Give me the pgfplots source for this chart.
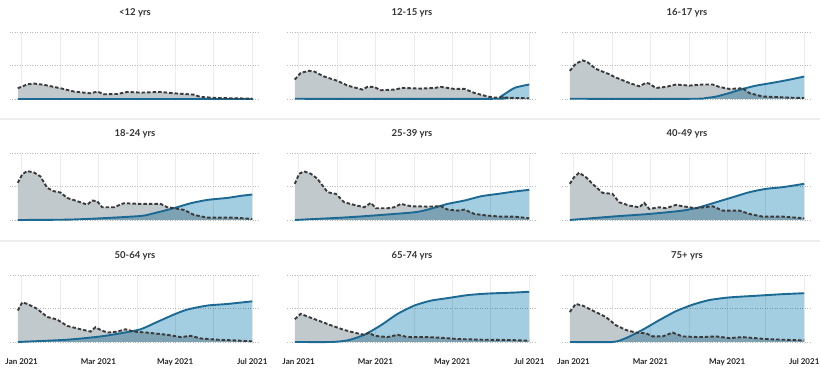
\documentclass[border=0pt]{standalone}
\usepackage{fontspec}
\setmainfont{Lato}
\usepackage{pgfplots}
\usepackage{pgfplotstable}
\pgfplotsset{compat=1.18}
\definecolor{greyfill}{HTML}{C2C9CD}
\definecolor{bluefillc}{HTML}{A3CEE1}
\definecolor{blueline}{HTML}{1C6A94}
\definecolor{dashc}{HTML}{3A3A3A}
\definecolor{gridv}{HTML}{ECECEC}
\definecolor{gridh}{HTML}{BBBBBB}
\definecolor{sepc}{HTML}{EEEEEE}

% <12
\pgfplotstableread{
x y
0 16
7.7 22
12.8 23
20.5 21
33 16
43.6 11
56 8.5
61.5 11
66.7 7
77 7.5
84.6 10.5
95 9.5
110 10.5
120.5 8.5
136 6.5
141 3
154 1.5
181 0.5
}\gA
\pgfplotstableread{
x y
0 0.3
181 0.3
}\bA
% 12-15
\pgfplotstableread{
x y
0 29
4.6 39
11 42
15 41
22.7 33.5
33 27
40.7 20
52.3 14
56 18
61.3 18
66.5 13
76.8 14
83.2 16.5
97.4 15.5
107.7 16.5
113 18
123 15
131 15
138.7 9
149 3.6
154 2
159 2.5
169.6 1.5
181 1
}\gB
\pgfplotstableread{
x y
0 0.3
154 0.3
159 3.6
169.6 16.5
181 21.6
}\bB
% 16-17
\pgfplotstableread{
x y
0 42
4.6 52.6
9.8 57.7
13.7 55
20.1 45
30.4 37
35.6 32
45.9 24
53.6 19
58.8 24
61.3 23
66.5 16.5
74.2 18
82 21.6
92.3 20
102.6 21.6
110.3 21.6
115.5 18
123.2 15
133.5 16
138.7 8.8
149 3.6
159.3 3
169.6 2
181 1.5
}\gC
\pgfplotstableread{
x y
0 0.3
95 0.3
105 1.5
113 3.6
123 8.8
133.5 15
144 20
159 25
170 29
181 33.5
}\bC
% 18-24
\pgfplotstableread{
x y
0 55.5
3.4 68
7.2 73
12.4 71
17.5 65
22.7 48
27.8 43
33 41
38.1 33
45.9 28
53.6 23
57.5 29
61.3 28
65.2 19
74.2 19
81.9 25
94.8 24
110.3 24
115.5 19
120.6 17.7
128.4 15
136.1 7.6
146.4 3.5
156.7 3.5
167 3.5
181 1.5
}\gD
\pgfplotstableread{
x y
0 0
38 0.5
64 2.5
95 6
105 10
120.6 17.7
133.5 25
146.4 30
162 33
172 36
181 38
}\bD
% 25-39
\pgfplotstableread{
x y
0 54
3.4 69
7.2 72.5
12.4 69
17.5 61.5
25.3 41.5
31.7 39
38.1 26.5
45.9 22.5
53.6 19
58.8 25.5
62.6 17.5
71.6 17.5
76.8 19
82 24
89.7 20.5
102.6 20
113 20.5
118 15.5
125.8 14
131 15.5
138.7 9
149 6.5
159.3 5
169.6 5
181 2.5
}\gE
\pgfplotstableread{
x y
0 0
40.7 4
66.5 7.5
92.3 11.5
102.6 15.5
118 24
131 29
144 35.5
157 39
169.6 42.5
181 45
}\bE
% 40-49
\pgfplotstableread{
x y
0 54
3.4 64
7.2 70.5
12.4 64
17.5 54
25.3 40.5
33 39
38.1 26.5
45.9 21.5
53.6 19
57.5 25.5
61.3 16.5
69.1 19
74.2 17.5
82 22.5
87.1 20.5
97.4 17.5
110.3 20.5
118 14
131 14
138.7 9
149 5
164.4 5
181 2.5
}\gF
\pgfplotstableread{
x y
0 0
35.6 5.5
61.3 9
87 14
100 19
113 26.5
125.8 34
138.7 41.5
151.5 46.5
164.4 49
181 54
}\bF
% 50-64
\pgfplotstableread{
x y
0 47
3.4 59
7.2 57
14.9 49.5
22.7 37.4
30.4 33.5
38.1 24
48.5 19
56.2 15.5
60 22
63.9 18
69.1 14
76.8 15.5
83.2 19
89.7 15.5
100 14
115.5 10.7
125.8 7.3
133.5 9.2
141.2 5.3
154 3.4
167 2.4
181 1
}\gG
\pgfplotstableread{
x y
0 0
38.1 3.4
64 8.3
79.4 13
94.8 19
107.7 30
120.6 41
131 48.5
146.4 54.4
162 56.8
181 60.7
}\bG
% 65-74
\pgfplotstableread{
x y
0 34
4.6 42
9.8 38
17.5 32.5
27.8 25
38.1 18
45.9 14
53.6 10.7
57.5 14
61.3 9.2
71.6 7.3
79.4 10.7
87.1 7.3
102.6 7.3
113 6.3
126 4.4
144 3.4
164.4 3
181 2
}\gH
\pgfplotstableread{
x y
0 0
27.8 0
40.7 2.4
53.6 10.7
66.5 25
79.4 42
92.3 54.4
105 61.7
118 65.5
133.5 70
149 72.3
169.6 73.8
181 75
}\bH
% 75+
\pgfplotstableread{
x y
0 44.7
4.6 56.8
9.8 54.4
17.5 47
27.8 37.4
35.6 25
43.3 18
51 14
58.8 13
64 8.3
71.6 8.3
79.4 14
87.1 8.3
100 7.3
113 8.3
123.2 5.8
133.5 7.3
151.5 4.4
164.4 3.4
181 2.4
}\gI
\pgfplotstableread{
x y
0 0
33 0
43.3 5.8
56 18
69 32.5
82 46
95 55.8
107.7 62.6
123 66.5
143.8 69
164.4 71.4
181 72.8
}\bI

\pgfplotsset{
  panel/.style={
    scale only axis, width=250pt, height=69pt,
    xmin=-6, xmax=187, ymin=-3, ymax=100,
    axis line style={draw=none}, major tick length=0pt,
    xtick={3,32.7,62.3,92,121.5,151,181},
    ytick={0,50,100}, yticklabels={},
    xmajorgrids, ymajorgrids,
    x grid style={color=gridv, line width=0.8pt},
    y grid style={color=gridh, line width=0.9pt, dash pattern=on 0.9pt off 1.6pt},
    title style={at={(0.5,1)}, anchor=center, yshift=13pt, font=\fontsize{9.5}{12}\selectfont\bfseries, text=black!80},
    xticklabel style={anchor=center, yshift=-18pt, font=\fontsize{8}{10}\selectfont\bfseries, text=black!85},
  }
}
\newcommand{\panel}[6]{%
\begin{axis}[at={(#1pt,#2pt)}, anchor=south west, panel, title={#3}, xticklabels={#6}]
\addplot[fill=greyfill, draw=none] table {#4} \closedcycle;
\addplot[fill=bluefillc, draw=none, blend mode=multiply, smooth, tension=0.4] table {#5} \closedcycle;
\addplot[blueline, line width=1.9pt, smooth, tension=0.4] table {#5};
\addplot[dashc, line width=1.9pt, dash pattern=on 3.5pt off 2pt] table {#4};
\end{axis}}

\begin{document}
\begin{tikzpicture}[x=1pt,y=1pt]
\path[use as bounding box] (0,0) rectangle (820,370);
\fill[white] (0,0) rectangle (820,370);
\draw[sepc, line width=2pt] (0,251) -- (820,251);
\draw[sepc, line width=2pt] (0,129) -- (820,129);
\panel{10}{269}{<12 yrs}{\gA}{\bA}{}
\panel{287}{269}{12-15 yrs}{\gB}{\bB}{}
\panel{562}{269}{16-17 yrs}{\gC}{\bC}{}
\panel{10}{148}{18-24 yrs}{\gD}{\bD}{}
\panel{287}{148}{25-39 yrs}{\gE}{\bE}{}
\panel{562}{148}{40-49 yrs}{\gF}{\bF}{}
\panel{10}{26}{50-64 yrs}{\gG}{\bG}{{Jan 2021},,{Mar 2021},,{May 2021},,{Jul 2021}}
\panel{287}{26}{65-74 yrs}{\gH}{\bH}{{Jan 2021},,{Mar 2021},,{May 2021},,{Jul 2021}}
\panel{562}{26}{75+ yrs}{\gI}{\bI}{{Jan 2021},,{Mar 2021},,{May 2021},,{Jul 2021}}
\end{tikzpicture}
\end{document}
